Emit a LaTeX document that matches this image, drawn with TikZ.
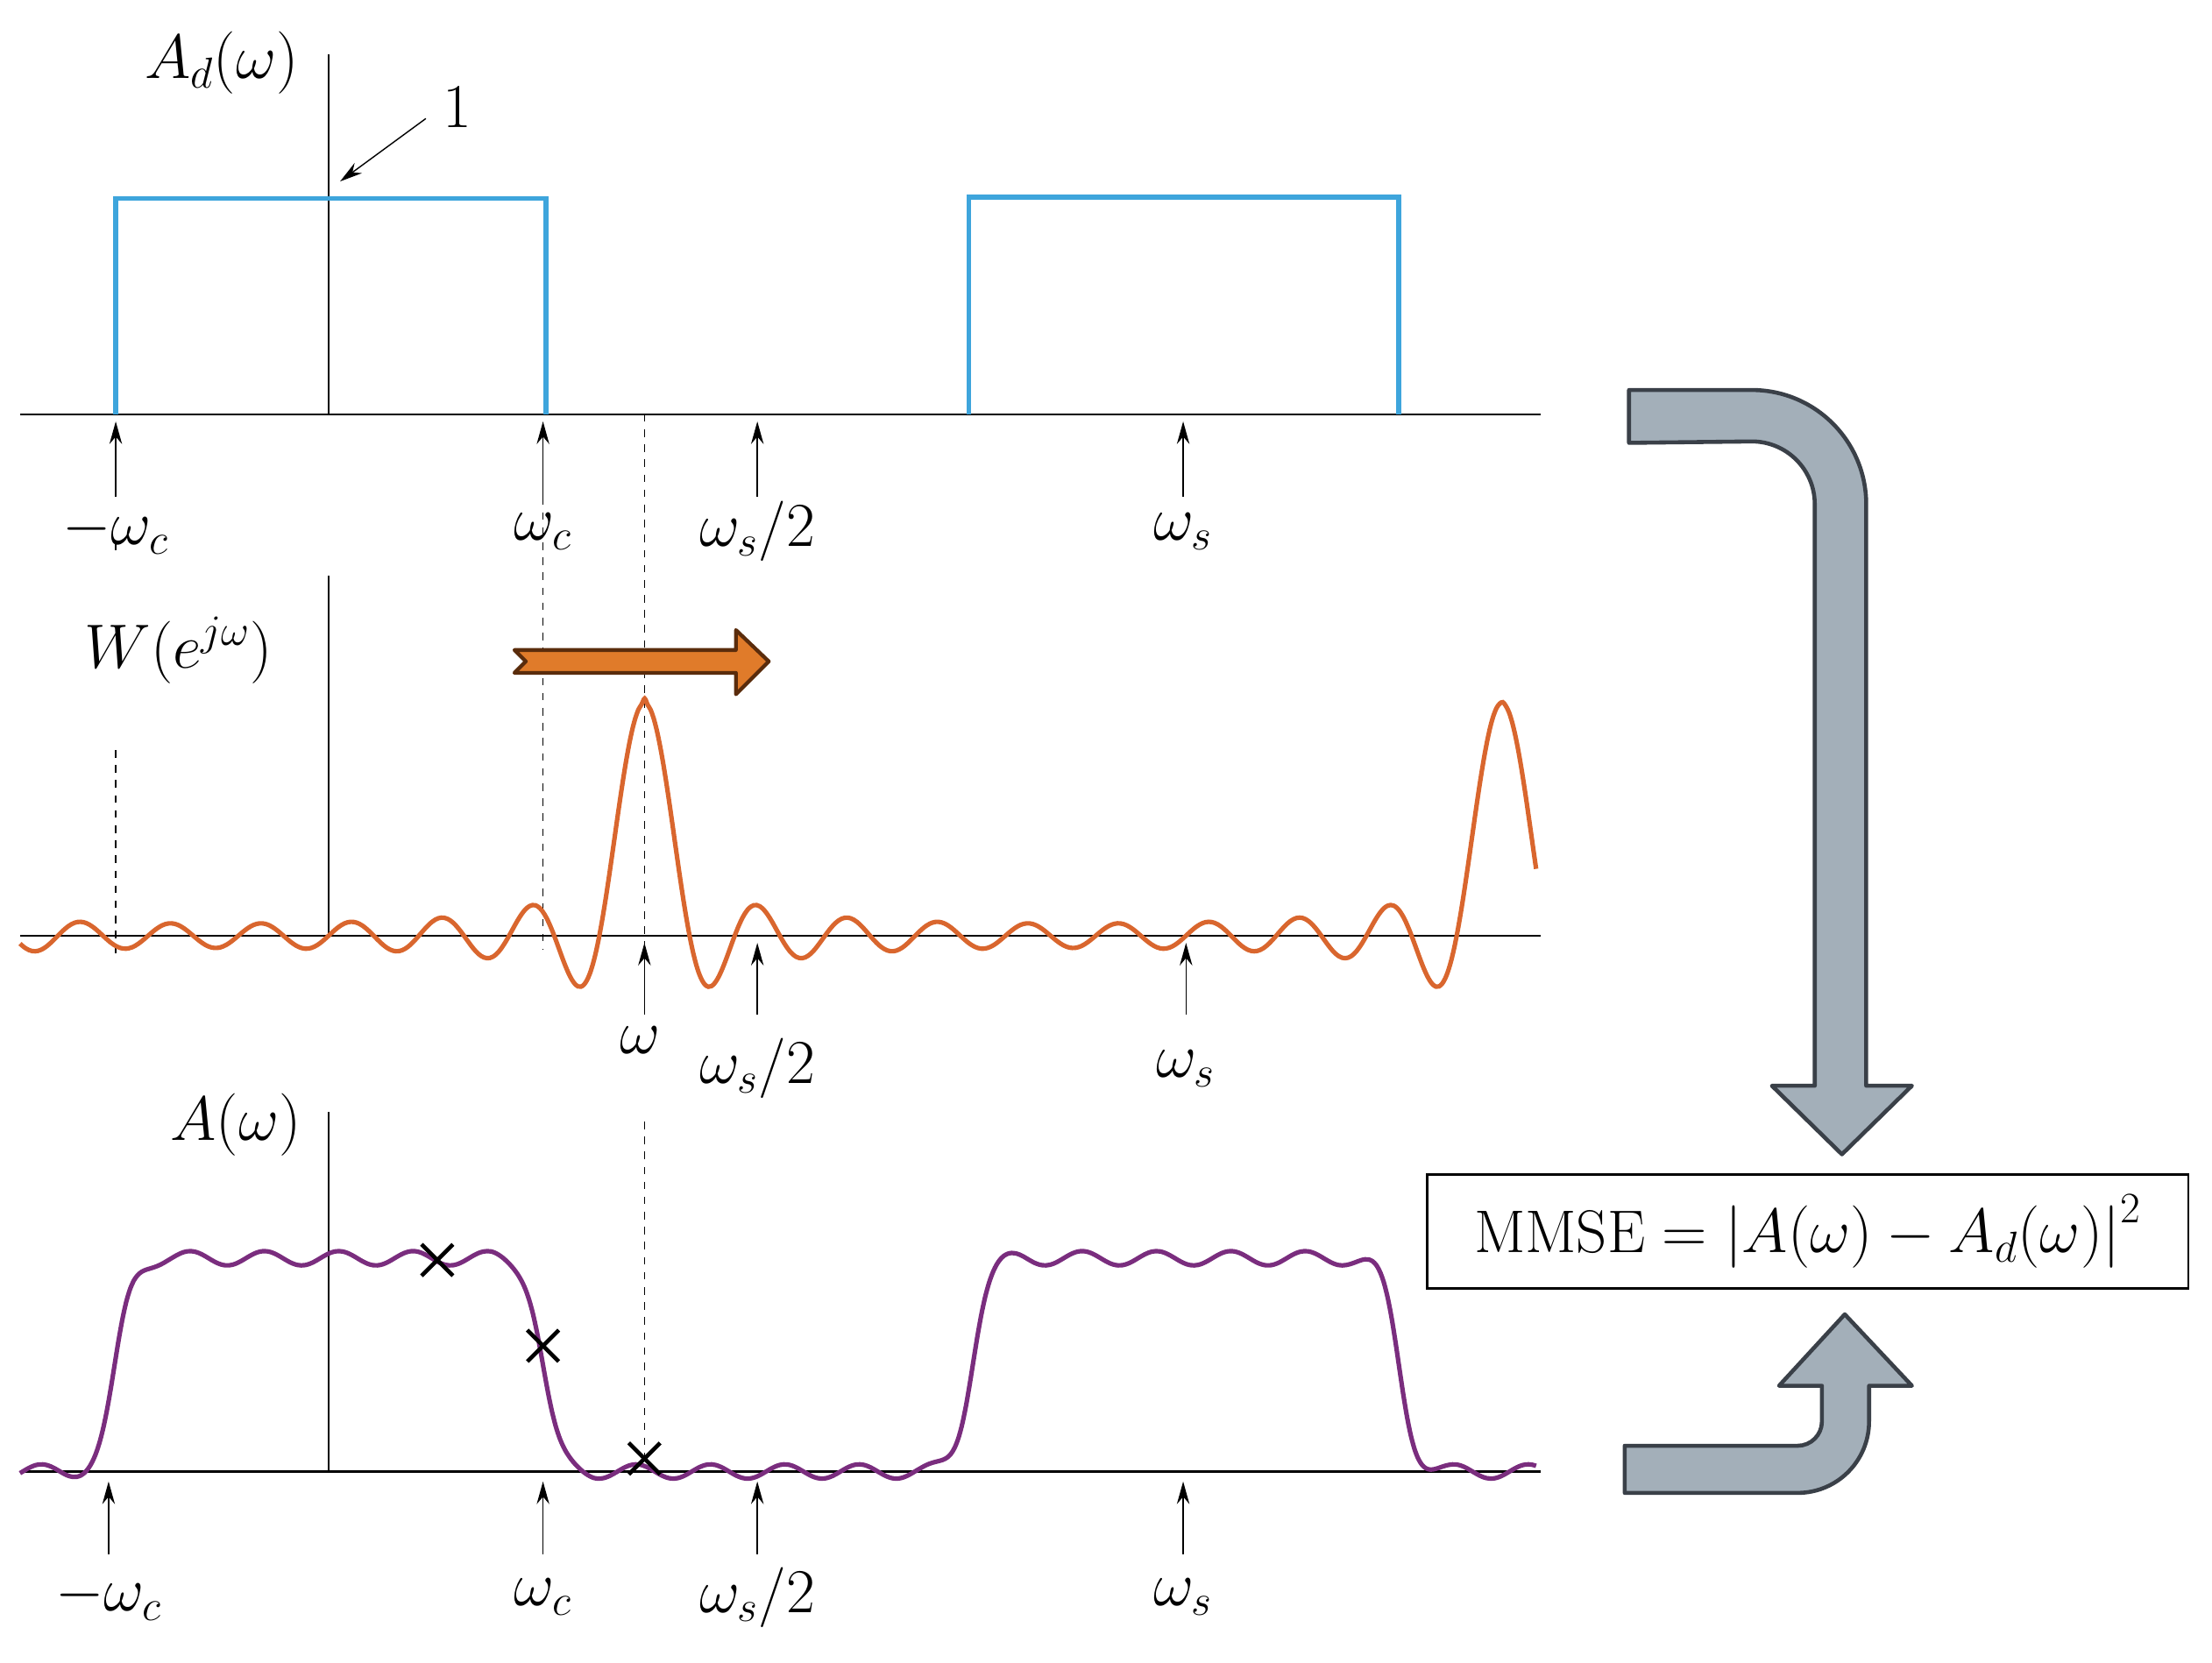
\documentclass[tikz,border=0pt]{standalone}
\usepackage{amsmath}
\usetikzlibrary{arrows.meta}
\definecolor{bandblue}{HTML}{3EA5DC}
\definecolor{winorange}{HTML}{D9662E}
\definecolor{resppurple}{HTML}{7A2D7E}
\definecolor{shiftorange}{HTML}{E07B2A}
\definecolor{shiftedge}{HTML}{5A2C0C}
\definecolor{flowgray}{HTML}{A3AFB9}
\definecolor{flowedge}{HTML}{3A4048}
\tikzset{
  axis line/.style={line width=0.8pt},
  tick arrow/.style={-{Stealth[length=9pt,width=5pt]},line width=0.5pt},
  guide/.style={dashed,line width=0.6pt},
  lbl/.style={font=\fontsize{24}{28}\selectfont},
  flow arrow/.style={fill=flowgray,draw=flowedge,line width=1.6pt,line join=round},
  cross/.style={line width=1.6pt},
  declare function={edge(\u)=1/(1+exp(-max(min(\u,36),-36)/6));}
}
\begin{document}
\begin{tikzpicture}[x=0.02cm,y=0.02cm]
\useasboundingbox (0,0) rectangle (1548,1164);
% top panel: desired response
\draw[axis line] (14,874) -- (1078,874);
\draw[axis line] (230,874) -- (230,1126);
\draw[bandblue,line width=2pt] (81,874) -- (81,1025) -- (382,1025) -- (382,874);
\draw[bandblue,line width=2pt] (678,874) -- (678,1026) -- (979,1026) -- (979,874);
\node[lbl] (adlabel) at (155,1120) {$A_d(\omega)$};
\node[lbl] (one) at (320,1089) {$1$};
\coordinate (onetip) at (238,1037);
\draw[tick arrow] (298,1081) -- (onetip);
\foreach \x/\t in {81/-\omega_c,380/\omega_c,530/\omega_s\text{/}2,828/\omega_s}{
  \draw[tick arrow] (\x,816) -- (\x,869);
  \node[lbl] at (\x,792) {$\t$};
}
% guides through the panels
\draw[guide] (451,874) -- (451,484);
\draw[guide] (380,816) -- (380,499);
\draw[guide] (81,784) -- (81,774);
\draw[guide] (81,639) -- (81,494);
% middle panel: window spectrum
\draw[axis line] (14,509) -- (1078,509);
\draw[axis line] (230,509) -- (230,761);
\node[lbl] (wlabel) at (125,709) {$W(e^{j\omega})$};
\draw[winorange,line width=1.8pt,smooth] plot[domain=14:1075,samples=501]
  (\x,{509+163*sin(19*(\x-451)*0.3)/(19*sin((\x-451)*0.3))});
\draw[fill=shiftorange,draw=shiftedge,line width=1.5pt,line join=round]
  (360,709) -- (515,709) -- (515,723) -- (538,701) -- (515,678) -- (515,693) -- (360,693) -- (368,701) -- cycle;
\draw[tick arrow] (451,454) -- (451,504);
\node[lbl] at (448,436) {$\omega$};
\foreach \x/\t in {530/\omega_s\text{/}2,830/\omega_s}{
  \draw[tick arrow] (\x,454) -- (\x,504);
  \node[lbl] at (\x,416) {$\t$};
}
% bottom panel: realised response
\draw[axis line] (14,134) -- (1078,134);
\draw[axis line] (230,134) -- (230,386);
\node[lbl] (alabel) at (165,377) {$A(\omega)$};
\draw[resppurple,line width=1.8pt,smooth] plot[domain=14:1075,samples=400]
  (\x,{134+150*(edge(\x-81)-edge(\x-380)+edge(\x-680)-edge(\x-979))+5*cos(6.92*(\x-81))});
\draw[guide] (451,379) -- (451,143);
\foreach \x/\y in {306/282,380/222,451/143}{
  \draw[cross] (\x-11,\y-11) -- (\x+11,\y+11);
  \draw[cross] (\x-11,\y+11) -- (\x+11,\y-11);
}
\foreach \x/\t in {76/-\omega_c,380/\omega_c,530/\omega_s\text{/}2,828/\omega_s}{
  \draw[tick arrow] (\x,76) -- (\x,127);
  \node[lbl] at (\x,46) {$\t$};
}
% right side: error measure and flow arrows
\node[lbl,draw,line width=1pt,minimum width=10.66cm,minimum height=1.6cm] (mmse) at (1265,302)
  {$\text{MMSE} = \left|A(\omega) - A_d(\omega)\right|^2$};
\draw[flow arrow] (1140,891) -- (1226,891) arc (90:0:80) -- (1306,404) -- (1338,404) -- (1289,356)
  -- (1240,404) -- (1270,404) -- (1270,811) arc (0:90:44) -- (1140,854) -- cycle;
\draw[flow arrow] (1137,119) -- (1258,119) arc (-90:0:50) -- (1308,194) -- (1338,194) -- (1291,244)
  -- (1245,194) -- (1275,194) -- (1275,169) arc (0:-90:17) -- (1137,152) -- cycle;
\end{tikzpicture}
\end{document}
